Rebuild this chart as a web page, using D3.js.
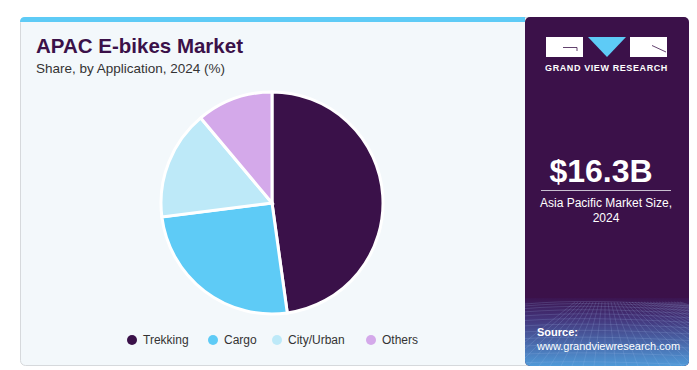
<!DOCTYPE html>
<html>
<head>
<meta charset="utf-8">
<script src="https://cdn.jsdelivr.net/npm/d3@7"></script>
<style>
  body { margin: 0; background: #fff; }
  text { font-family: "Liberation Sans", Arial, sans-serif; }
</style>
</head>
<body>
<div id="chart"></div>
<script>
// data
var categories = ["Trekking", "Cargo", "City/Urban", "Others"];
var shares = [47.8, 25.2, 15.9, 11.1];
var colors = ["#3a1149", "#5ecbf6", "#bde9f8", "#d4a9ea"];

var W = 697, H = 370;

var svg = d3.select("#chart")
            .append("svg")
            .attr("width", W)
            .attr("height", H);

var defs = svg.append("defs");
var grad = defs.append("linearGradient")
               .attr("id", "bottomGrad")
               .attr("x1", 0).attr("y1", 0).attr("x2", 0).attr("y2", 1);
grad.append("stop").attr("offset", "0%").attr("stop-color", "#3b1450");
grad.append("stop").attr("offset", "30%").attr("stop-color", "#43347a");
grad.append("stop").attr("offset", "100%").attr("stop-color", "#4f9ad8");

defs.append("clipPath").attr("id", "panelClip")
    .append("rect")
    .attr("x", 525).attr("y", 17)
    .attr("width", 164).attr("height", 349)
    .attr("rx", 5);

//Card
svg.append("rect")
   .attr("x", 20.5).attr("y", 17.5)
   .attr("width", 668).attr("height", 348)
   .attr("rx", 5)
   .attr("fill", "#f3f8fb")
   .attr("stroke", "#d6d9dc");

//Top blue strip
svg.append("path")
   .attr("d", "M20,22 L20,22 Q20,17 25,17 L525,17 L525,22 Z")
   .attr("fill", "#5ecbf6");

//Right panel
var panel = svg.append("g").attr("clip-path", "url(#panelClip)");
panel.append("rect")
     .attr("x", 525).attr("y", 17)
     .attr("width", 164).attr("height", 349)
     .attr("fill", "#3b1149");
panel.append("rect")
     .attr("x", 525).attr("y", 298)
     .attr("width", 164).attr("height", 68)
     .attr("fill", "url(#bottomGrad)");

//Wire grid in the panel foot
var grid = panel.append("g")
                .attr("stroke", "#a9c4f0")
                .attr("stroke-opacity", 0.3)
                .attr("fill", "none")
                .attr("stroke-width", 0.6);
d3.range(0, 14).forEach(function(i) {
  var y = 304 + i * i * 0.34 + i * 1.6;
  grid.append("path")
      .attr("d", "M525," + y + " Q590," + (y - 6 + i * 0.3) + " 689," + (y + 2));
});
d3.range(-10, 26).forEach(function(i) {
  var x0 = 605 + i * 3, x1 = 605 + i * 11;
  grid.append("path").attr("d", "M" + x0 + ",302 L" + x1 + ",366");
});

//Logo
var logo = svg.append("g");
logo.append("rect").attr("x", 546).attr("y", 37).attr("width", 37).attr("height", 20).attr("fill", "#fff");
logo.append("path").attr("d", "M563,47.5 L577,47.5 L577,51").attr("stroke", "#3b1149").attr("stroke-width", 0.8).attr("fill", "none");
logo.append("path").attr("d", "M588,37 L626,37 L607,57 Z").attr("fill", "#5ecbf6");
logo.append("rect").attr("x", 630).attr("y", 37).attr("width", 37).attr("height", 20).attr("fill", "#fff");
logo.append("path").attr("d", "M652,45.5 L666,52").attr("stroke", "#3b1149").attr("stroke-width", 0.8);
logo.append("text")
    .attr("x", 606.5).attr("y", 71)
    .attr("text-anchor", "middle")
    .attr("fill", "#fff")
    .attr("font-size", 9)
    .attr("font-weight", "bold")
    .attr("letter-spacing", 0.6)
    .text("GRAND VIEW RESEARCH");

//Market size
svg.append("text")
   .attr("x", 601).attr("y", 182)
   .attr("text-anchor", "middle")
   .attr("fill", "#fff")
   .attr("font-size", 32)
   .attr("font-weight", "bold")
   .text("$16.3B");
svg.append("line")
   .attr("x1", 541).attr("x2", 671)
   .attr("y1", 190.5).attr("y2", 190.5)
   .attr("stroke", "#c9bfd0").attr("stroke-width", 1);
svg.append("text")
   .attr("x", 606).attr("y", 207)
   .attr("text-anchor", "middle")
   .attr("fill", "#fff")
   .attr("font-size", 12)
   .text("Asia Pacific Market Size,");
svg.append("text")
   .attr("x", 606).attr("y", 222)
   .attr("text-anchor", "middle")
   .attr("fill", "#fff")
   .attr("font-size", 12)
   .text("2024");

//Source
svg.append("text")
   .attr("x", 537).attr("y", 336)
   .attr("fill", "#fff")
   .attr("font-size", 11)
   .attr("font-weight", "bold")
   .text("Source:");
svg.append("text")
   .attr("x", 537).attr("y", 350)
   .attr("fill", "#fff")
   .attr("font-size", 11)
   .text("www.grandviewresearch.com");

//Titles
svg.append("text")
   .attr("x", 36).attr("y", 53)
   .attr("fill", "#3b1149")
   .attr("font-size", 20.5)
   .attr("font-weight", "bold")
   .text("APAC E-bikes Market");
svg.append("text")
   .attr("x", 36).attr("y", 73)
   .attr("fill", "#333")
   .attr("font-size", 13.5)
   .text("Share, by Application, 2024 (%)");

//Pie
var pie = d3.pie().sort(null).value(function(d) { return d; });
var arc = d3.arc().innerRadius(0).outerRadius(111);

svg.append("g")
   .attr("transform", "translate(272,203)")
   .selectAll("path")
   .data(pie(shares))
   .join("path")
   .attr("d", arc)
   .attr("fill", function(d, i) { return colors[i]; })
   .attr("stroke", "#fff")
   .attr("stroke-width", 3);

//Legend
var legendX = [132, 213, 277, 371];
var legend = svg.append("g")
                .selectAll("g")
                .data(categories)
                .join("g")
                .attr("transform", function(d, i) { return "translate(" + legendX[i] + ",340)"; });
legend.append("circle")
      .attr("r", 5)
      .attr("fill", function(d, i) { return colors[i]; });
legend.append("text")
      .attr("x", 11).attr("y", 4)
      .attr("font-size", 12)
      .attr("fill", "#333")
      .text(function(d) { return d; });
</script>
</body>
</html>
